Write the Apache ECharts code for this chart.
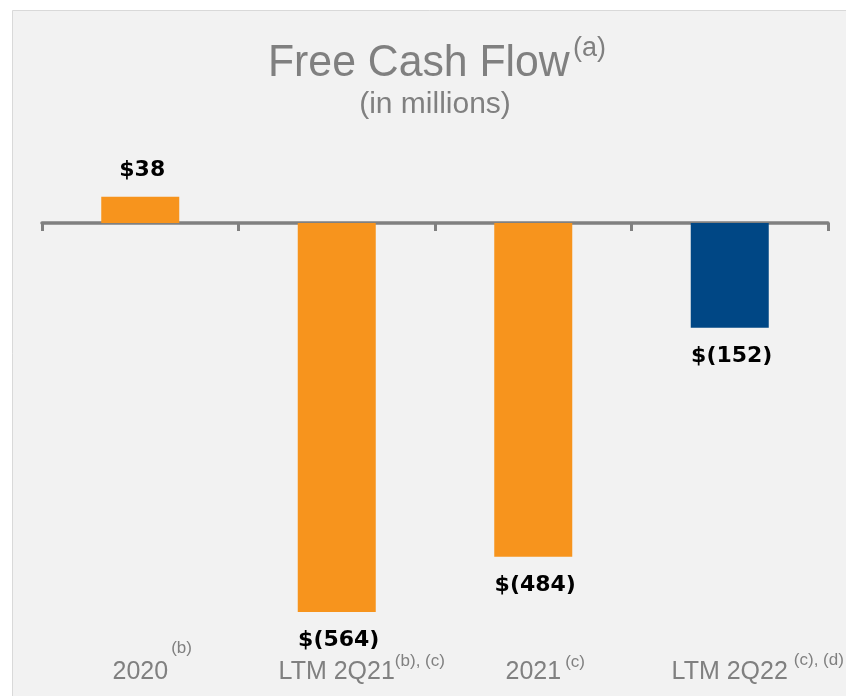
<!DOCTYPE html>
<html>
<head>
<meta charset="utf-8">
<script src="https://cdn.jsdelivr.net/npm/echarts@6/dist/echarts.min.js"></script>
<style>
  html, body { margin: 0; padding: 0; background: #ffffff; }
  #chart { width: 846px; height: 696px; }
</style>
</head>
<body>
<div id="chart"></div>
<script>
// ---- data ----
const categories = ['2020', 'LTM 2Q21', '2021', 'LTM 2Q22'];
const footnotes = ['(b)', '(b), (c)', '(c)', '(c), (d)'];
const values = [38, -564, -484, -152];
const titleText = 'Free Cash Flow';
const titleNote = '(a)';
const subtitleText = '(in millions)';

// ---- styles ----
const barColors = ['#F7941D', '#F7941D', '#F7941D', '#004785'];
const noteGap = [3, 0, 4, 6];          // gap between label and footnote
const noteWidth = [21, 50, 20, 50];    // footnote text width
const noteTop = [2, 15, 16.5, 14];     // footnote offset from label line top
const gray = '#808080';
const font = '"Liberation Sans", Arial, sans-serif';
const boldFont = '"DejaVu Sans", Verdana, sans-serif';

function fmt(v) { return v >= 0 ? '$' + v : '$(' + (-v) + ')'; }

const chart = echarts.init(document.getElementById('chart'), null, { renderer: 'canvas' });

const labelRich = {
  m: { fontFamily: font, fontSize: 25, color: gray, lineHeight: 60, verticalAlign: 'top', padding: [22, 0, 0, 0] }
};
for (let i = 0; i < categories.length; i++) {
  labelRich['p' + i] = { width: noteGap[i] + noteWidth[i], lineHeight: 60, verticalAlign: 'top' };
  labelRich['g' + i] = { width: noteGap[i], lineHeight: 60, verticalAlign: 'top' };
  labelRich['s' + i] = {
    fontFamily: font, fontSize: 17, color: gray,
    verticalAlign: 'top', lineHeight: 60, padding: [noteTop[i], 0, 0, 0]
  };
}

const option = {
  backgroundColor: '#ffffff',
  animation: false,
  graphic: [
    {
      type: 'rect', z: -10, silent: true,
      shape: { x: 12.5, y: 10.5, width: 840, height: 690 },
      style: { fill: '#f2f2f2', stroke: '#d9d9d9', lineWidth: 1 }
    },
    {
      type: 'text', x: 268, y: 41, scaleX: 0.95, silent: true,
      style: { text: titleText, fontFamily: font, fontSize: 45, fill: gray, textAlign: 'left', textVerticalAlign: 'top' }
    },
    {
      type: 'text', x: 573, y: 35, silent: true,
      style: { text: titleNote, fontFamily: font, fontSize: 27, fill: gray, textAlign: 'left', textVerticalAlign: 'top' }
    },
    {
      type: 'text', x: 435, y: 90, silent: true,
      style: { text: subtitleText, fontFamily: font, fontSize: 30, fill: gray, textAlign: 'center', textVerticalAlign: 'top' }
    }
  ],
  grid: { left: 42, right: 18, top: 181.6, bottom: 59.2, containLabel: false, outerBoundsMode: 'none' },
  xAxis: [
    {
      type: 'category', data: categories,
      axisLine: { onZero: true, lineStyle: { color: gray, width: 3.5 } },
      axisTick: { show: true, length: 8, lineStyle: { color: gray, width: 3 } },
      axisLabel: { show: false },
      splitLine: { show: false }
    },
    {
      type: 'category', data: categories, position: 'bottom',
      axisLine: { show: false, onZero: false },
      axisTick: { show: false },
      axisLabel: {
        show: true, margin: 1, interval: 0,
        formatter: function (val) {
          const i = categories.indexOf(val);
          return '{p' + i + '| }{m|' + val + '}{g' + i + '| }{s' + i + '|' + footnotes[i] + '}';
        },
        rich: labelRich
      }
    }
  ],
  yAxis: { type: 'value', min: -600, max: 60, show: false, splitLine: { show: false } },
  series: [
    {
      type: 'bar', xAxisIndex: 0, barWidth: 78,
      data: values.map(function (v, i) {
        return {
          value: v,
          itemStyle: { color: barColors[i] },
          label: { position: v >= 0 ? 'top' : 'bottom', distance: v >= 0 ? 15 : 17, offset: [2, 0] }
        };
      }),
      label: {
        show: true,
        formatter: function (p) { return fmt(p.value); },
        fontFamily: boldFont, fontSize: 22, fontWeight: 'bold', color: '#000000'
      }
    }
  ]
};
chart.setOption(option);
</script>
</body>
</html>
